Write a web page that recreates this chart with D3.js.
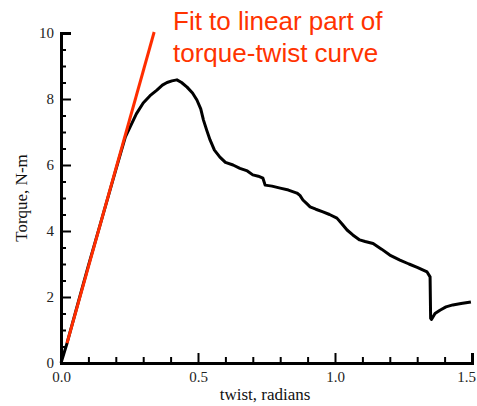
<!DOCTYPE html>
<html>
<head>
<meta charset="utf-8">
<script src="https://cdn.jsdelivr.net/npm/d3@7"></script>
<style>
  body { margin: 0; background: #fff; }
  svg { display: block; }
</style>
</head>
<body>
<div id="chart"></div>
<script>
const canvas = { w: 477, h: 406 };
const margin = { left: 61, top: 33, right: 5, bottom: 43 };

// measured torque-twist curve (twist in radians, torque in N-m)
const twist  = [0, 0.022, 0.06, 0.10, 0.15, 0.20, 0.235, 0.252, 0.275, 0.30, 0.325, 0.35, 0.37, 0.387, 0.405, 0.423, 0.44, 0.46, 0.48, 0.496, 0.51, 0.52, 0.532, 0.544, 0.56, 0.58, 0.60, 0.628, 0.653, 0.68, 0.70, 0.72, 0.737, 0.745, 0.77, 0.80, 0.83, 0.861, 0.872, 0.883, 0.898, 0.909, 0.93, 0.956, 0.98, 1.007, 1.025, 1.044, 1.065, 1.09, 1.11, 1.139, 1.17, 1.20, 1.237, 1.27, 1.30, 1.336, 1.347, 1.349, 1.352, 1.365, 1.383, 1.405, 1.43, 1.46, 1.496];
const torque = [0, 0.6, 1.75, 2.95, 4.4, 5.85, 6.85, 7.15, 7.55, 7.88, 8.1, 8.27, 8.42, 8.5, 8.55, 8.58, 8.5, 8.36, 8.18, 7.97, 7.7, 7.36, 7.05, 6.76, 6.45, 6.24, 6.08, 6.0, 5.9, 5.82, 5.7, 5.66, 5.6, 5.39, 5.36, 5.3, 5.24, 5.15, 5.08, 4.94, 4.82, 4.73, 4.66, 4.58, 4.5, 4.39, 4.22, 4.03, 3.88, 3.73, 3.68, 3.62, 3.45, 3.27, 3.12, 3.0, 2.9, 2.76, 2.61, 1.36, 1.32, 1.5, 1.6, 1.7, 1.76, 1.8, 1.85];

// linear fit shown in red
const fitTwist  = [0.022, 0.34];
const fitTorque = [0.6, 10.03];

const xMajor = [0, 0.5, 1.0, 1.5];
const xMinor = [0.1, 0.2, 0.3, 0.4, 0.6, 0.7, 0.8, 0.9, 1.1, 1.2, 1.3, 1.4];
const yMajor = [0, 2, 4, 6, 8, 10];
const yMinor = [0.5, 1, 1.5, 2.5, 3, 3.5, 4.5, 5, 5.5, 6.5, 7, 7.5, 8.5, 9, 9.5];

const annotation = ["Fit to linear part of", "torque-twist curve"];

const svg = d3.select("#chart")
    .append("svg")
    .attr("width", canvas.w)
    .attr("height", canvas.h)
    .attr("viewBox", `0 0 ${canvas.w} ${canvas.h}`);

const x = d3.scaleLinear().domain([0, 1.5]).range([margin.left, 472]);
const y = d3.scaleLinear().domain([0, 10]).range([363, 33]);

const serif = "'Liberation Serif', 'DejaVu Serif', serif";

// data curve
const line = d3.line().x((d, i) => x(twist[i])).y((d, i) => y(torque[i]));
svg.append("path")
    .datum(twist)
    .attr("fill", "none")
    .attr("stroke", "#000")
    .attr("stroke-width", 3)
    .attr("stroke-linejoin", "round")
    .attr("d", line);

// fit line
svg.append("line")
    .attr("x1", x(fitTwist[0])).attr("y1", y(fitTorque[0]))
    .attr("x2", x(fitTwist[1])).attr("y2", y(fitTorque[1]))
    .attr("stroke", "#ff2d00")
    .attr("stroke-width", 3);

// axes, ticks pointing inward
const gx = svg.append("g").attr("transform", `translate(0,${y(0)})`);
gx.call(d3.axisBottom(x).tickValues(xMajor).tickSize(-10).tickPadding(8).tickFormat(d3.format(".1f")));
gx.append("g").call(d3.axisBottom(x).tickValues(xMinor).tickSize(-6).tickFormat(""));

const gy = svg.append("g").attr("transform", `translate(${x(0)},0)`);
gy.call(d3.axisLeft(y).tickValues(yMajor).tickSize(-10).tickPadding(7).tickFormat(d3.format("d")));
gy.append("g").call(d3.axisLeft(y).tickValues(yMinor).tickSize(-5).tickFormat(""));

svg.selectAll(".domain").attr("stroke-width", 3).attr("stroke", "#000");
svg.selectAll(".tick line").attr("stroke-width", 2).attr("stroke", "#000");
svg.selectAll(".tick text")
    .attr("font-family", serif)
    .attr("font-size", 15)
    .attr("fill", "#222");

// last x label sits against the right edge
gx.selectAll(".tick text").filter(d => d === 1.5).attr("dx", -6);

// axis titles
svg.append("text")
    .attr("x", 265).attr("y", 400)
    .attr("text-anchor", "middle")
    .attr("font-family", serif)
    .attr("font-size", 17)
    .attr("fill", "#111")
    .text("twist, radians");

svg.append("text")
    .attr("transform", `translate(27,${y(5)}) rotate(-90)`)
    .attr("text-anchor", "middle")
    .attr("font-family", serif)
    .attr("font-size", 17)
    .attr("fill", "#111")
    .text("Torque, N-m");

// annotation
svg.append("g")
    .selectAll("text")
    .data(annotation)
    .join("text")
    .attr("x", 173)
    .attr("y", (d, i) => 30 + i * 32)
    .attr("font-family", "'Liberation Sans', Arial, sans-serif")
    .attr("font-size", 26)
    .attr("fill", "#ff3300")
    .text(d => d);
</script>
</body>
</html>
